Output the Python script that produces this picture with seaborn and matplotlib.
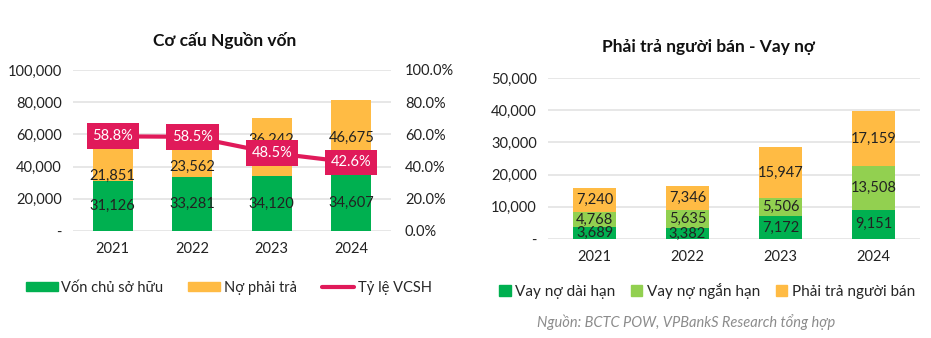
import numpy as np
import pandas as pd
import matplotlib
matplotlib.use("Agg")
import matplotlib.pyplot as plt
import seaborn as sns
from matplotlib.lines import Line2D
from matplotlib.patches import Patch

sns.set_theme(style="white")
plt.rcParams['font.family'] = ['Lato', 'DejaVu Sans']

years = ["2021", "2022", "2023", "2024"]
# Left chart
von_csh = [31126, 33281, 34120, 34607]
no_phai_tra = [21851, 23562, 36242, 46675]
ty_le_vcsh = [58.8, 58.5, 48.5, 42.6]
# Right chart
vay_dai_han = [3689, 3382, 7172, 9151]
vay_ngan_han = [4768, 5635, 5506, 13508]
phai_tra_nguoi_ban = [7240, 7346, 15947, 17159]

left_ticks = [0, 20000, 40000, 60000, 80000, 100000]
right_pct_ticks = [0, 20, 40, 60, 80, 100]
right_ticks = [0, 10000, 20000, 30000, 40000, 50000]

# style: manual vertical nudges (points) of the liability labels, as in the reference
no_label_nudge = [-9, -6, 5, 0]

GREEN = "#00B050"
LGREEN = "#92D050"
ORANGE = "#FFBB44"
CRIMSON = "#E01A5A"
GRID = "#E3E3E3"
TXT = "#222222"

fig = plt.figure(figsize=(9.31, 3.38), dpi=100)

def fmt(v):
    return "-" if v == 0 else f"{v:,.0f}"

def style_ax(ax, ticks, ylim):
    ax.set_ylim(*ylim)
    ax.set_yticks(ticks)
    ax.set_yticklabels([fmt(t) for t in ticks], fontsize=10.5, color=TXT)
    ax.grid(axis="y", color=GRID, lw=1.2)
    ax.set_axisbelow(True)
    for s in ax.spines.values():
        s.set_visible(False)
    ax.tick_params(axis="both", length=0, pad=8, labelsize=10.5, colors=TXT)
    ax.set_xlabel("")
    ax.set_ylabel("")

# ---------------- Left chart ----------------
axL = fig.add_axes([0.0784, 0.3166, 0.3416, 0.4763])
dfL = pd.DataFrame({"year": years, "vcsh": von_csh, "no": no_phai_tra})
dfL["total"] = dfL["vcsh"] + dfL["no"]
sns.barplot(data=dfL, x="year", y="total", color=ORANGE, width=0.5, ax=axL,
            saturation=1, edgecolor="none")
sns.barplot(data=dfL, x="year", y="vcsh", color=GREEN, width=0.5, ax=axL,
            saturation=1, edgecolor="none")
style_ax(axL, left_ticks, (0, 100000))
axL.set_xlim(-0.5, 3.5)
for i, r in dfL.iterrows():
    axL.text(i, r["vcsh"] / 2, f"{r['vcsh']:,}", ha="center", va="center",
             fontsize=10.5, color=TXT)
    axL.annotate(f"{r['no']:,}", (i, r["vcsh"] + r["no"] / 2),
                 xytext=(0, no_label_nudge[i]), textcoords="offset points",
                 ha="center", va="center", fontsize=10.5, color=TXT)

ax2 = axL.twinx()
sns.lineplot(x=list(range(len(years))), y=ty_le_vcsh, ax=ax2, color=CRIMSON, lw=3)
ax2.set_ylim(0, 100)
ax2.set_yticks(right_pct_ticks)
ax2.set_yticklabels([f"{t:.1f}%" for t in right_pct_ticks], fontsize=10.5, color=TXT)
ax2.tick_params(axis="y", length=0, pad=10)
for s in ax2.spines.values():
    s.set_visible(False)
ax2.set_ylabel("")
for i, v in enumerate(ty_le_vcsh):
    ax2.text(i, v, f"{v:.1f}%", ha="center", va="center", fontsize=10.5, color="white",
             bbox=dict(boxstyle="square,pad=0.4", fc=CRIMSON, ec="none"), zorder=5)
axL.set_xlim(-0.5, 3.5)

fig.text(0.2415, 0.88, "Cơ cấu Nguồn vốn", ha="center", va="center",
         fontsize=12.5, fontweight="bold", color="#111111")

handlesL = [Patch(color=GREEN), Patch(color=ORANGE), Line2D([0], [0], color=CRIMSON, lw=3)]
fig.legend(handlesL, ["Vốn chủ sở hữu", "Nợ phải trả", "Tỷ lệ VCSH"],
           loc="center", bbox_to_anchor=(0.2455, 0.148), ncol=3, frameon=False,
           fontsize=10.5, handlelength=2.2, handleheight=0.55, columnspacing=1.7,
           handletextpad=0.25, borderpad=0.2)

# ---------------- Right chart ----------------
axR = fig.add_axes([0.5886, 0.2929, 0.3996, 0.4763])
dfR = pd.DataFrame({"year": years, "dh": vay_dai_han, "nh": vay_ngan_han, "ptnb": phai_tra_nguoi_ban})
dfR["c1"] = dfR["dh"]
dfR["c2"] = dfR["dh"] + dfR["nh"]
dfR["c3"] = dfR["c2"] + dfR["ptnb"]
sns.barplot(data=dfR, x="year", y="c3", color=ORANGE, width=0.47, ax=axR, saturation=1, edgecolor="none")
sns.barplot(data=dfR, x="year", y="c2", color=LGREEN, width=0.47, ax=axR, saturation=1, edgecolor="none")
sns.barplot(data=dfR, x="year", y="c1", color=GREEN, width=0.47, ax=axR, saturation=1, edgecolor="none")
style_ax(axR, right_ticks, (0, 50000))
axR.set_xlim(-0.5, 3.5)
for i, r in dfR.iterrows():
    axR.text(i, r["c1"] / 2, f"{r['dh']:,}", ha="center", va="center", fontsize=10.5, color=TXT)
    axR.text(i, (r["c1"] + r["c2"]) / 2, f"{r['nh']:,}", ha="center", va="center", fontsize=10.5, color=TXT)
    axR.text(i, (r["c2"] + r["c3"]) / 2, f"{r['ptnb']:,}", ha="center", va="center", fontsize=10.5, color=TXT)

fig.text(0.7605, 0.86, "Phải trả người bán - Vay nợ", ha="center", va="center",
         fontsize=12.5, fontweight="bold", color="#111111")

handlesR = [Patch(color=GREEN), Patch(color=LGREEN), Patch(color=ORANGE)]
fig.legend(handlesR, ["Vay nợ dài hạn", "Vay nợ ngắn hạn", "Phải trả người bán"],
           loc="center", bbox_to_anchor=(0.7595, 0.139), ncol=3, frameon=False,
           fontsize=11, handlelength=0.75, handleheight=0.75, columnspacing=1.0,
           handletextpad=0.3, borderpad=0.2)

fig.text(0.737, 0.047, "Nguồn: BCTC POW, VPBankS Research tổng hợp", ha="center", va="center",
         fontsize=10.5, style="italic", color="#8C8C8C")

fig.savefig("out.png", dpi=100)
